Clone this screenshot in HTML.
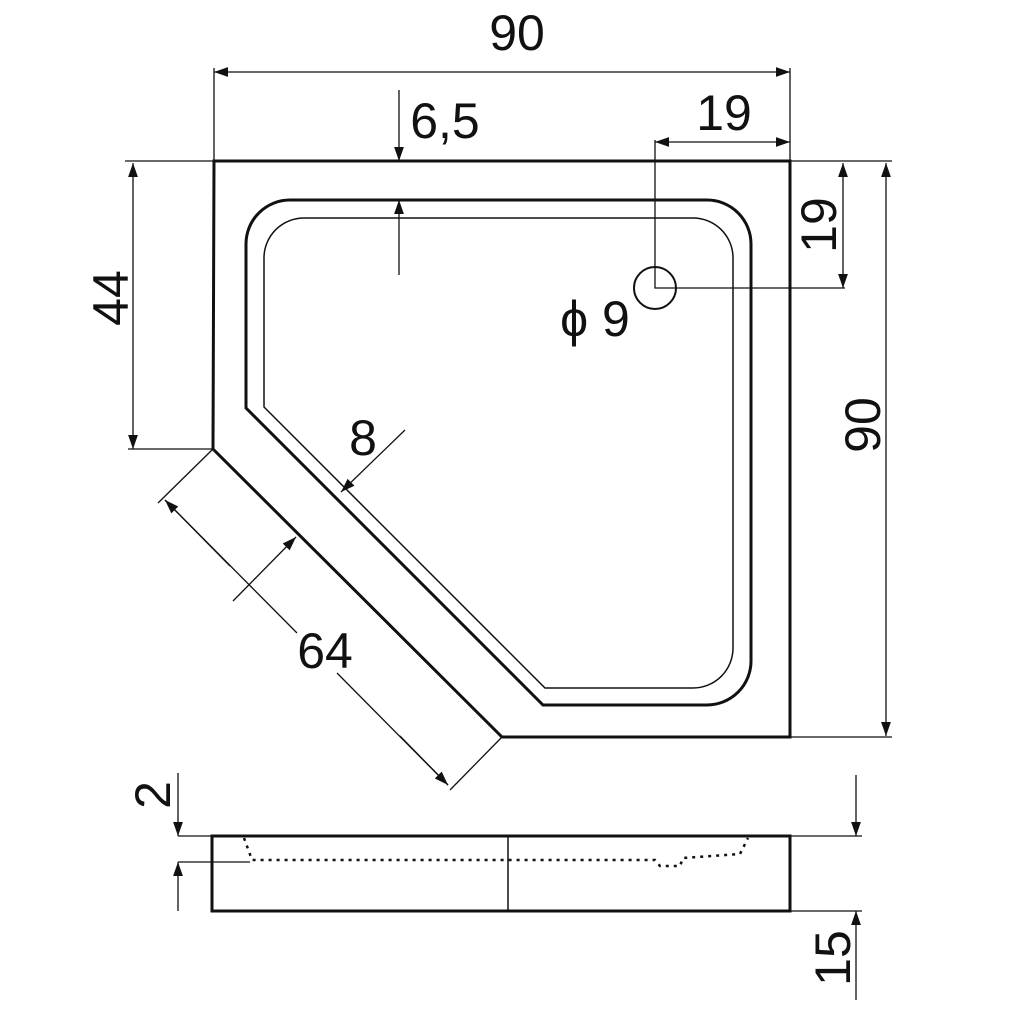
<!DOCTYPE html>
<html><head><style>body{margin:0;background:#fff}svg{display:block}text{font-family:"Liberation Sans",sans-serif;font-size:50px;fill:#111}</style></head><body>
<svg width="1024" height="1024" viewBox="0 0 1024 1024">
<defs><marker id="a" viewBox="0 0 10 10" refX="10" refY="5" markerWidth="14" markerHeight="14" markerUnits="userSpaceOnUse" orient="auto-start-reverse"><path d="M0,1.5L10,5L0,8.5z" fill="#111"/></marker></defs>
<g fill="none" stroke="#111">
<path d="M214,161H790V737H502L213,449Z" stroke-width="3"/>
<path d="M246,408V244A44,44 0 0 1 290,200H707A44,44 0 0 1 751,244V661A44,44 0 0 1 707,705H543Z" stroke-width="3"/>
<path d="M264,407V258A40,40 0 0 1 304,218H693A40,40 0 0 1 733,258V648A40,40 0 0 1 693,688H545Z" stroke-width="1.5"/>
<circle cx="655" cy="288" r="21" stroke-width="2"/>
<g stroke-width="1.3">
<path d="M214,68V161M790,68V161M655,140V288H845M790,161H892M790,737H892M125,161H214M128,449H213M158,503L213,449M450,790L502,737"/>
<line x1="214" y1="72" x2="790" y2="72" marker-start="url(#a)" marker-end="url(#a)"/>
<line x1="655" y1="142" x2="790" y2="142" marker-start="url(#a)" marker-end="url(#a)"/>
<line x1="843" y1="163" x2="843" y2="288" marker-start="url(#a)" marker-end="url(#a)"/>
<line x1="886" y1="163" x2="886" y2="736" marker-start="url(#a)" marker-end="url(#a)"/>
<line x1="133" y1="163" x2="133" y2="449" marker-start="url(#a)" marker-end="url(#a)"/>
<line x1="399" y1="90" x2="399" y2="161" marker-end="url(#a)"/>
<line x1="399" y1="275" x2="399" y2="200" marker-end="url(#a)"/>
<path d="M165,500L297,633M337,673L448,785"/>
<line x1="230" y1="566" x2="165" y2="500" marker-end="url(#a)"/>
<line x1="400" y1="736" x2="448" y2="785" marker-end="url(#a)"/>
<line x1="233" y1="601" x2="296" y2="537" marker-end="url(#a)"/>
<line x1="405" y1="430" x2="341" y2="492" marker-end="url(#a)"/>
</g>
<rect x="212" y="836" width="578" height="75" stroke-width="3"/>
<path d="M508,836V911" stroke-width="1.5"/>
<path d="M244,838L252,860H655L660,866H680L683,858L740,854L748,838" stroke-width="2.5" stroke-dasharray="3,5"/>
<g stroke-width="1.3">
<path d="M178,836H212M178,862H250M790,836H862M790,911H862"/>
<line x1="178" y1="773" x2="178" y2="836" marker-end="url(#a)"/>
<line x1="178" y1="911" x2="178" y2="862" marker-end="url(#a)"/>
<line x1="856" y1="775" x2="856" y2="836" marker-end="url(#a)"/>
<line x1="856" y1="1000" x2="856" y2="911" marker-end="url(#a)"/>
</g>
</g>
<text x="517" y="50" text-anchor="middle">90</text>
<text x="445" y="138" text-anchor="middle">6,5</text>
<text x="724" y="130" text-anchor="middle">19</text>
<text x="595" y="336" text-anchor="middle">ϕ 9</text>
<text x="363" y="455" text-anchor="middle">8</text>
<text x="325" y="668" text-anchor="middle">64</text>
<text transform="translate(128,298) rotate(-90)" text-anchor="middle">44</text>
<text transform="translate(836,225) rotate(-90)" text-anchor="middle">19</text>
<text transform="translate(880,425) rotate(-90)" text-anchor="middle">90</text>
<text transform="translate(170,795) rotate(-90)" text-anchor="middle">2</text>
<text transform="translate(850,958) rotate(-90)" text-anchor="middle">15</text>
</svg>
</body></html>
